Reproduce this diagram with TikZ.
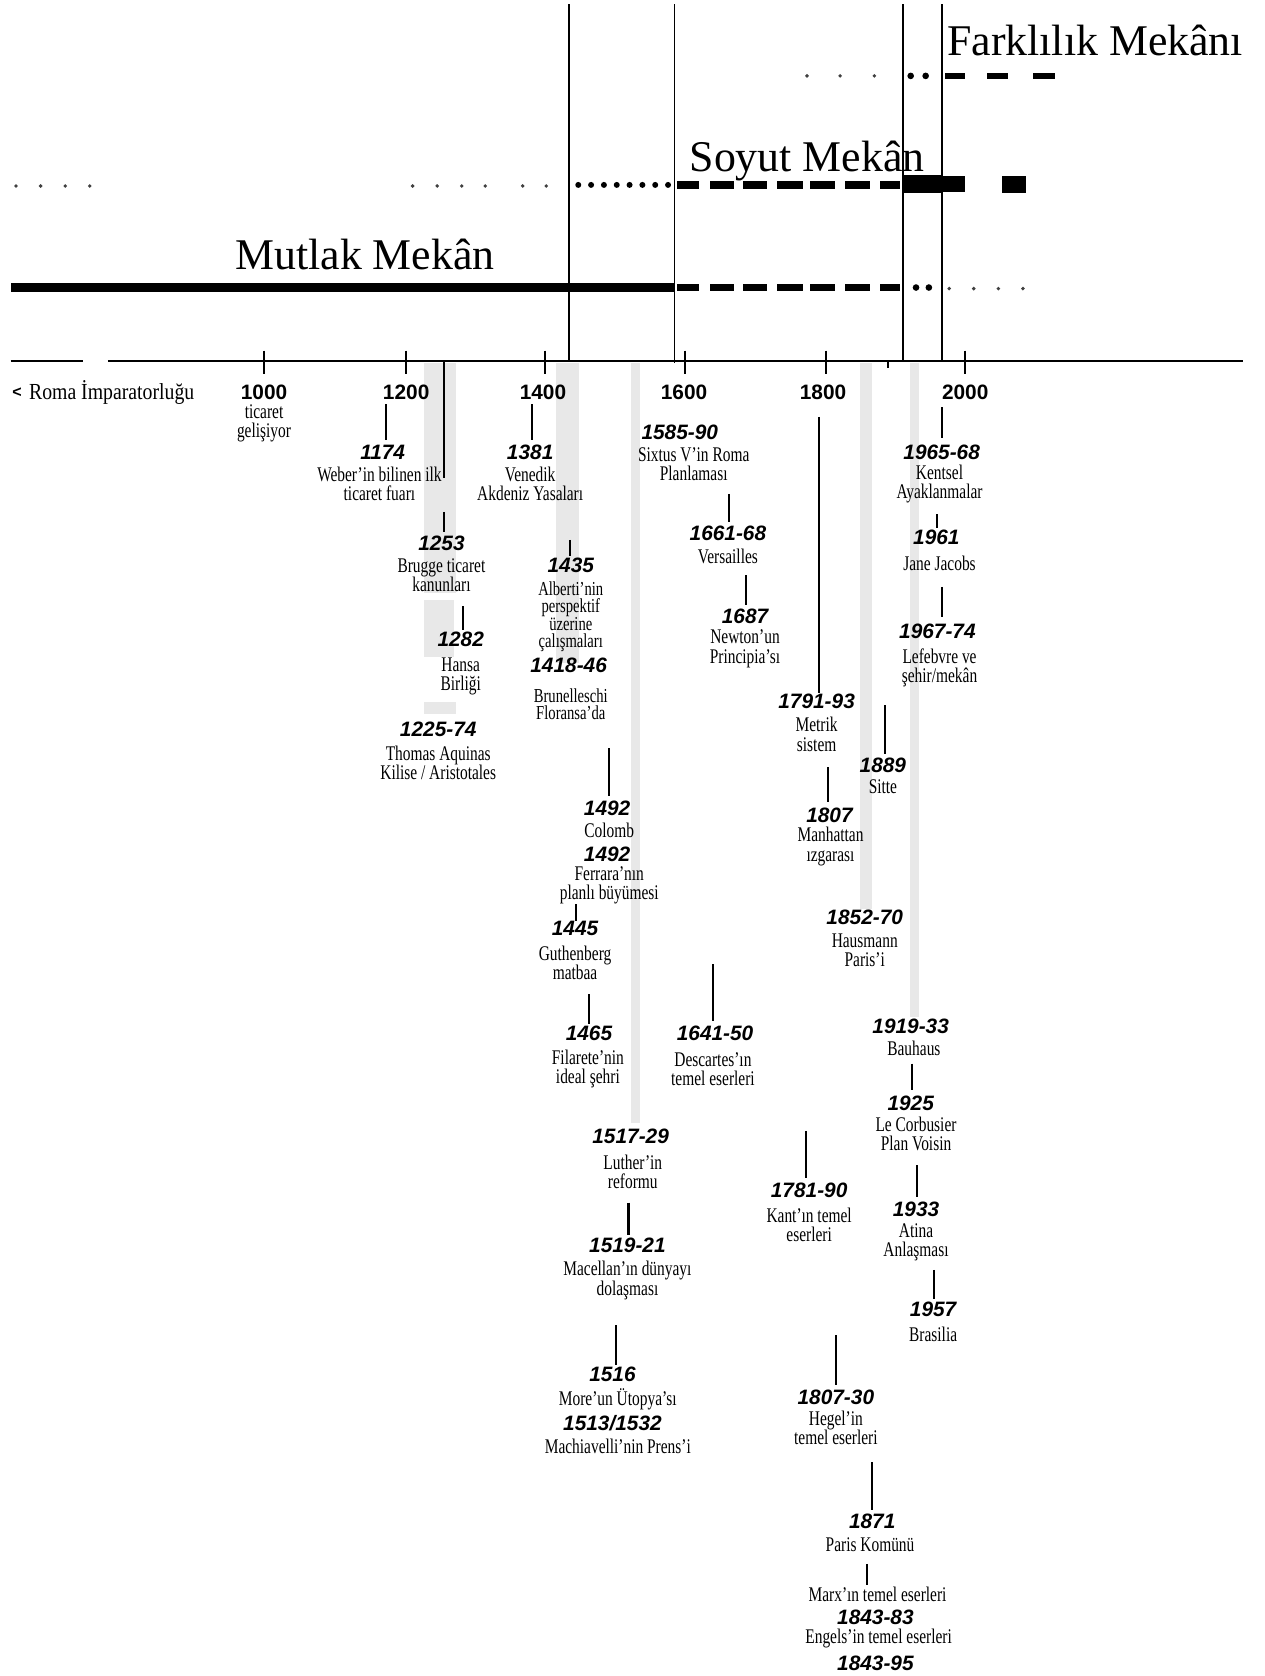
\documentclass[tikz,border=0pt]{standalone}
\usepackage{fontspec}
\setmainfont{Liberation Serif}[FakeStretch=0.74]
\newfontfamily\ttlfont{Liberation Serif}
\newfontfamily\romafont{Liberation Serif}[FakeStretch=0.86]
\newfontfamily\yrfam{Liberation Sans}
\newfontfamily\chevfont{Liberation Sans}
\begin{document}
\begin{tikzpicture}[x=1pt,y=-1pt,
  yr/.style={font=\yrfam\bfseries\itshape\fontsize{19.5}{19.5}\selectfont, inner sep=0.5pt},
  yrax/.style={font=\yrfam\bfseries\fontsize{19.5}{19.5}\selectfont, inner sep=0.5pt},
  tx/.style={font=\fontsize{19.5}{18}\selectfont, align=center, inner sep=0.5pt},
  txs/.style={tx, font=\fontsize{18.5}{16}\selectfont},
  ttl/.style={font=\ttlfont\fontsize{41}{41}\selectfont, inner sep=0, anchor=base west},
  stub/.style={line width=2},
  era/.style={line width=1.6},
  band/.style={fill=black!9, draw=none},
  sdot/.style={fill=black!75, draw=none},
  bdot/.style={fill=black, draw=none},
  dsh/.style={fill=black, draw=none}]
\fill[white] (0,0) rectangle (1183,1568);
\useasboundingbox (0,0) rectangle (1183,1568);

% grey bands
\fill[band] (397,340) rectangle (427,555);
\fill[band] (397,561) rectangle (425,615);
\fill[band] (397,657) rectangle (427,668);
\fill[band] (520,340) rectangle (542,620);
\fill[band] (590,340) rectangle (599,1051);
\fill[band] (805,340) rectangle (816,850);
\fill[band] (851,340) rectangle (860,951);

% era vertical lines
\draw[era] (532,4) -- (532,338);
\draw[era] (631,4) -- (631,340);
\draw[era] (845,4) -- (845,338);
\draw[era] (881,4) -- (881,338);

% row 1 : Farklilik
\foreach \x in {755,786,818} \fill[sdot] (\x,71) circle (1.8);
\foreach \x in {852,866} \fill[bdot] (\x,71) circle (3.1);
\fill[dsh] (884,68) rectangle (903,74);
\fill[dsh] (923,68) rectangle (943,74);
\fill[dsh] (966,68) rectangle (987,74);

% row 2 : Soyut
\foreach \x in {15,38,61,84,386,409,432,454,489,511} \fill[sdot] (\x,174) circle (1.8);
\foreach \x in {541,553,...,625} \fill[bdot] (\x,173) circle (2.8);
\foreach \a/\b in {633/654,664/687,695/718,727/751,758/781,791/814,823/842}
  \fill[dsh] (\a,169.5) rectangle (\b,176.5);
\fill[dsh] (845,164) rectangle (881,181);
\fill[dsh] (881,165) rectangle (903,180);
\fill[dsh] (937,165) rectangle (960,181);

% row 3 : Mutlak
\fill[dsh] (10,264.5) rectangle (631,273.5);
\foreach \a/\b in {633/654,664/687,695/718,727/751,758/781,791/814,823/842}
  \fill[dsh] (\a,265.5) rectangle (\b,272.5);
\foreach \x in {857,869} \fill[bdot] (\x,269) circle (3.1);
\foreach \x in {888,911,934,957} \fill[sdot] (\x,270) circle (1.8);

% axis
\draw[line width=2] (10,338) -- (78,338);
\draw[line width=2] (101,338) -- (1163,338);
\foreach \x in {247,380,510,641,773,903} \draw[line width=2] (\x,328) -- (\x,350);
\draw[line width=1.5] (831,338) -- (831,344);

% axis labels
\node[inner sep=0] (chev) at (16,367) {\chevfont\bfseries\fontsize{15}{15}\selectfont <};
\node[inner sep=0, anchor=west, font=\romafont\fontsize{21.5}{21.5}\selectfont] (roma) at (27,367) {Roma İmparatorluğu};
\node[yrax] (a1000) at (247,367) {1000};
\node[yrax] (a1200) at (380,367) {1200};
\node[yrax] (a1400) at (508,367) {1400};
\node[yrax] (a1600) at (640,367) {1600};
\node[yrax] (a1800) at (770,367) {1800};
\node[yrax] (a2000) at (903,367) {2000};

% events
\node[tx] (t1000) at (247,396) {ticaret\\gelişiyor};
\node[yr] (y1174) at (358,423) {1174};
\node[tx] (t1174) at (355,453) {Weber’in bilinen ilk\\ticaret fuarı};
\node[yr] (y1253) at (413,508) {1253};
\node[tx] (t1253) at (413,538) {Brugge ticaret\\kanunları};
\node[yr] (y1282) at (431,598) {1282};
\node[tx] (t1282) at (431,633) {Hansa\\Birliği};
\node[yr] (y1225) at (410,682) {1225-74};
\node[tx] (t1225) at (410,714) {Thomas Aquinas\\Kilise / Aristotales};
\node[yr] (y1381) at (496,423) {1381};
\node[tx] (t1381) at (496,453) {Venedik\\Akdeniz Yasaları};
\node[yr] (y1435) at (534,529) {1435};
\node[txs] (t1435) at (534,577) {Alberti’nin\\perspektif\\üzerine\\çalışmaları};
\node[yr] (y1418) at (532,622) {1418-46};
\node[txs] (t1418) at (534,659) {Brunelleschi\\Floransa’da};
\node[yr] (y1492a) at (568,756) {1492};
\node[tx] (t1492a) at (570,777) {Colomb};
\node[yr] (y1492b) at (568,799) {1492};
\node[tx] (t1492b) at (570,828) {Ferrara’nın\\planlı büyümesi};
\node[yr] (y1445) at (538,869) {1445};
\node[tx] (t1445) at (538,901) {Guthenberg\\matbaa};
\node[yr] (y1465) at (551,967) {1465};
\node[tx] (t1465) at (550,1000) {Filarete’nin\\ideal şehri};
\node[yr] (y1517) at (590,1063) {1517-29};
\node[tx] (t1517) at (592,1096) {Luther’in\\reformu};
\node[yr] (y1519) at (587,1165) {1519-21};
\node[tx] (t1519) at (587,1198) {Macellan’ın dünyayı\\dolaşması};
\node[yr] (y1516) at (573,1286) {1516};
\node[tx] (t1516) at (578,1309) {More’un Ütopya’sı};
\node[yr] (y1513) at (573,1331) {1513/1532};
\node[tx] (t1513) at (578,1353) {Machiavelli’nin Prens’i};
\node[yr] (y1585) at (636,404) {1585-90};
\node[tx] (t1585) at (649,434) {Sixtus V’in Roma\\Planlaması};
\node[yr] (y1661) at (681,499) {1661-68};
\node[tx] (t1661) at (681,521) {Versailles};
\node[yr] (y1687) at (697,577) {1687};
\node[tx] (t1687) at (697,607) {Newton’un\\Principia’sı};
\node[yr] (y1641) at (669,967) {1641-50};
\node[tx] (t1641) at (667,1000) {Descartes’ın\\temel eserleri};
\node[yr] (y1791) at (764,656) {1791-93};
\node[tx] (t1791) at (764,687) {Metrik\\sistem};
\node[yr] (y1807) at (776,763) {1807};
\node[tx] (t1807) at (777,792) {Manhattan\\ızgarası};
\node[yr] (y1889) at (826,716) {1889};
\node[tx] (t1889) at (826,736) {Sitte};
\node[yr] (y1852) at (809,858) {1852-70};
\node[tx] (t1852) at (809,889) {Hausmann\\Paris’i};
\node[yr] (y1781) at (757,1114) {1781-90};
\node[tx] (t1781) at (757,1146) {Kant’ın temel\\eserleri};
\node[yr] (y1807b) at (782,1307) {1807-30};
\node[tx] (t1807b) at (782,1336) {Hegel’in\\temel eserleri};
\node[yr] (y1871) at (816,1423) {1871};
\node[tx] (t1871) at (814,1445) {Paris Komünü};
\node[tx] (tmarx) at (821,1492) {Marx’ın temel eserleri};
\node[yr] (ymarx) at (819,1513) {1843-83};
\node[tx] (tengels) at (822,1533) {Engels’in temel eserleri};
\node[yr] (yengels) at (819,1556) {1843-95};
\node[yr] (y1965) at (881,423) {1965-68};
\node[tx] (t1965) at (879,453) {Kentsel\\Ayaklanmalar};
\node[yr] (y1961) at (876,503) {1961};
\node[tx] (t1961) at (879,527) {Jane Jacobs};
\node[yr] (y1967) at (877,591) {1967-74};
\node[tx] (t1967) at (879,625) {Lefebvre ve\\şehir/mekân};
\node[yr] (y1919) at (852,960) {1919-33};
\node[tx] (t1919) at (855,981) {Bauhaus};
\node[yr] (y1925) at (852,1032) {1925};
\node[tx] (t1925) at (857,1061) {Le Corbusier\\Plan Voisin};
\node[yr] (y1933) at (857,1131) {1933};
\node[tx] (t1933) at (857,1162) {Atina\\Anlaşması};
\node[yr] (y1957) at (873,1225) {1957};
\node[tx] (t1957) at (873,1248) {Brasilia};

% stub lines
\foreach \x/\a/\b in {361/378/412, 415/338/447, 415/479/498, 433/567/589, 498/378/412,
  533/505/520, 570/700/745, 539/846/862, 551/930/958, 588/1125/1155, 576/1240/1277,
  682/462/488, 698/538/566, 667/902/955, 766/390/648, 775/718/750, 828/660/705,
  754/1058/1102, 782/1249/1296, 816/1368/1413, 811/1463/1483, 881/381/410,
  877/481/494, 881/549/577, 853/995/1020, 858/1090/1120, 874/1188/1215}
  \draw[stub] (\x,\a) -- (\x,\b);

% titles
\node[ttl] (mutlak) at (220,252) {Mutlak Mekân};
\node[ttl] (soyut) at (645,160) {Soyut Mekân};
\node[ttl] (fark) at (886,52) {Farklılık Mekânı};
\end{tikzpicture}
\end{document}
